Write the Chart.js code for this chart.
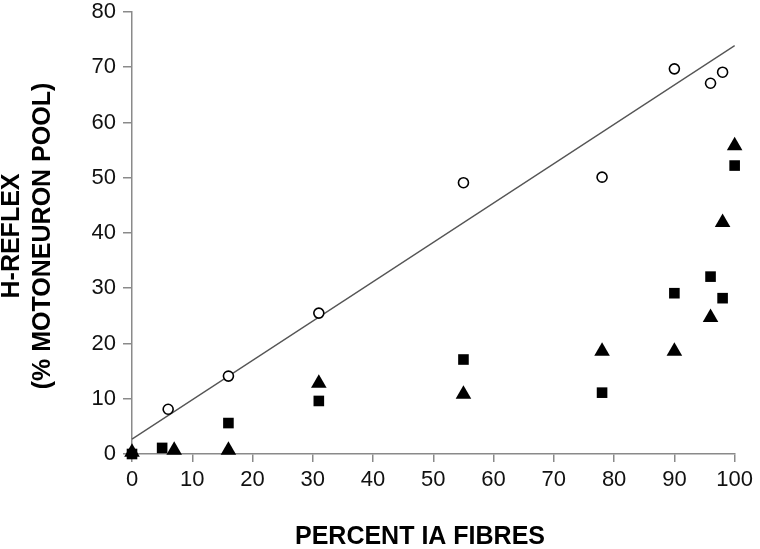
<!DOCTYPE html>
<html>
<head>
<meta charset="utf-8">
<script src="https://cdn.jsdelivr.net/npm/chart.js@4"></script>
<style>
  html, body { margin: 0; padding: 0; background: #fff; }
  #chart { display: block; }
</style>
</head>
<body>
<canvas id="chart" width="760" height="549"></canvas>
<script>
/*=================================
      data
=================================*/
var xTicks = [0, 10, 20, 30, 40, 50, 60, 70, 80, 90, 100];
var yTicks = [0, 10, 20, 30, 40, 50, 60, 70, 80];

var circleX = [6, 16, 31, 55, 78, 90, 96, 98];
var circleY = [8.1, 14.1, 25.5, 49.1, 50.1, 69.7, 67.1, 69.1];

var squareX = [0, 5, 16, 31, 55, 78, 90, 96, 98, 100];
var squareY = [0, 1.1, 5.6, 9.6, 17.1, 11.1, 29.1, 32.1, 28.2, 52.2];

var triangleX = [0, 7, 16, 31, 55, 78, 90, 96, 98, 100];
var triangleY = [0.3, 0.7, 0.7, 12.8, 10.8, 18.6, 18.6, 24.7, 41.9, 55.8];

var fitX = [0, 100];
var fitY = [2.7, 73.9];

var xTitle = "PERCENT IA FIBRES";
var yTitle = ["H-REFLEX", "(% MOTONEURON POOL)"];

function toPoints(xs, ys) {
  return xs.map(function (x, i) {
    return { x: x, y: ys[i] };
  });
}

/*=================================
      axis titles drawn as text
=================================*/
var titlesPlugin = {
  id: "titles",
  afterDraw: function (chart) {
    var ctx = chart.ctx;
    ctx.save();
    ctx.fillStyle = "#000";
    ctx.font = "bold 25px 'Liberation Sans', Arial, sans-serif";
    ctx.textAlign = "center";
    ctx.textBaseline = "middle";
    ctx.fillText(xTitle, 420, 537);

    ctx.translate(0, 236);
    ctx.rotate(-Math.PI / 2);
    ctx.fillText(yTitle[0], 0, 12);
    ctx.fillText(yTitle[1], 0, 43);
    ctx.restore();
  },
};

var xTickFont = { family: "'Liberation Sans', Arial, sans-serif", size: 22, lineHeight: 1 };
var yTickFont = { family: "'Liberation Sans', Arial, sans-serif", size: 22, lineHeight: 0.45 };

new Chart("chart", {
  type: "scatter",
  plugins: [titlesPlugin],
  data: {
    datasets: [
      {
        type: "line",
        label: "fit",
        data: toPoints(fitX, fitY),
        borderColor: "#555",
        borderWidth: 1.3,
        pointRadius: 0,
        fill: false,
        order: 4,
      },
      {
        label: "circles",
        data: toPoints(circleX, circleY),
        pointStyle: "circle",
        pointRadius: 5,
        pointBackgroundColor: "#fff",
        pointBorderColor: "#000",
        pointBorderWidth: 1.6,
        order: 3,
      },
      {
        label: "triangles",
        data: toPoints(triangleX, triangleY),
        pointStyle: "triangle",
        pointRadius: 9,
        pointBackgroundColor: "#000",
        pointBorderColor: "#000",
        pointBorderWidth: 0,
        order: 2,
      },
      {
        label: "squares",
        data: toPoints(squareX, squareY),
        pointStyle: "rect",
        pointRadius: 7.5,
        pointBackgroundColor: "#000",
        pointBorderColor: "#000",
        pointBorderWidth: 0,
        order: 1,
      },
    ],
  },
  options: {
    responsive: false,
    animation: false,
    clip: false,
    layout: {
      padding: { left: 0, right: 23, top: 0, bottom: 0 },
    },
    plugins: {
      legend: { display: false },
      tooltip: { enabled: false },
    },
    scales: {
      x: {
        type: "linear",
        min: xTicks[0],
        max: xTicks[xTicks.length - 1],
        afterBuildTicks: function (scale) {
          scale.ticks = xTicks.map(function (v) { return { value: v }; });
        },
        afterFit: function (scale) {
          scale.height = 95;
        },
        grid: {
          drawOnChartArea: false,
          drawTicks: true,
          tickLength: 8,
          color: "#8a8a8a",
          lineWidth: 1.5,
        },
        border: { color: "#8a8a8a", width: 1.5 },
        ticks: {
          color: "#111",
          font: xTickFont,
          padding: 7,
          maxRotation: 0,
        },
      },
      y: {
        type: "linear",
        min: yTicks[0],
        max: yTicks[yTicks.length - 1],
        afterBuildTicks: function (scale) {
          scale.ticks = yTicks.map(function (v) { return { value: v }; });
        },
        afterFit: function (scale) {
          scale.width = 132;
        },
        grid: {
          drawOnChartArea: false,
          drawTicks: true,
          tickLength: 9,
          color: "#8a8a8a",
          lineWidth: 1.5,
        },
        border: { color: "#8a8a8a", width: 1.5 },
        ticks: {
          color: "#111",
          font: yTickFont,
          padding: 7,
        },
      },
    },
  },
});
</script>
</body>
</html>
